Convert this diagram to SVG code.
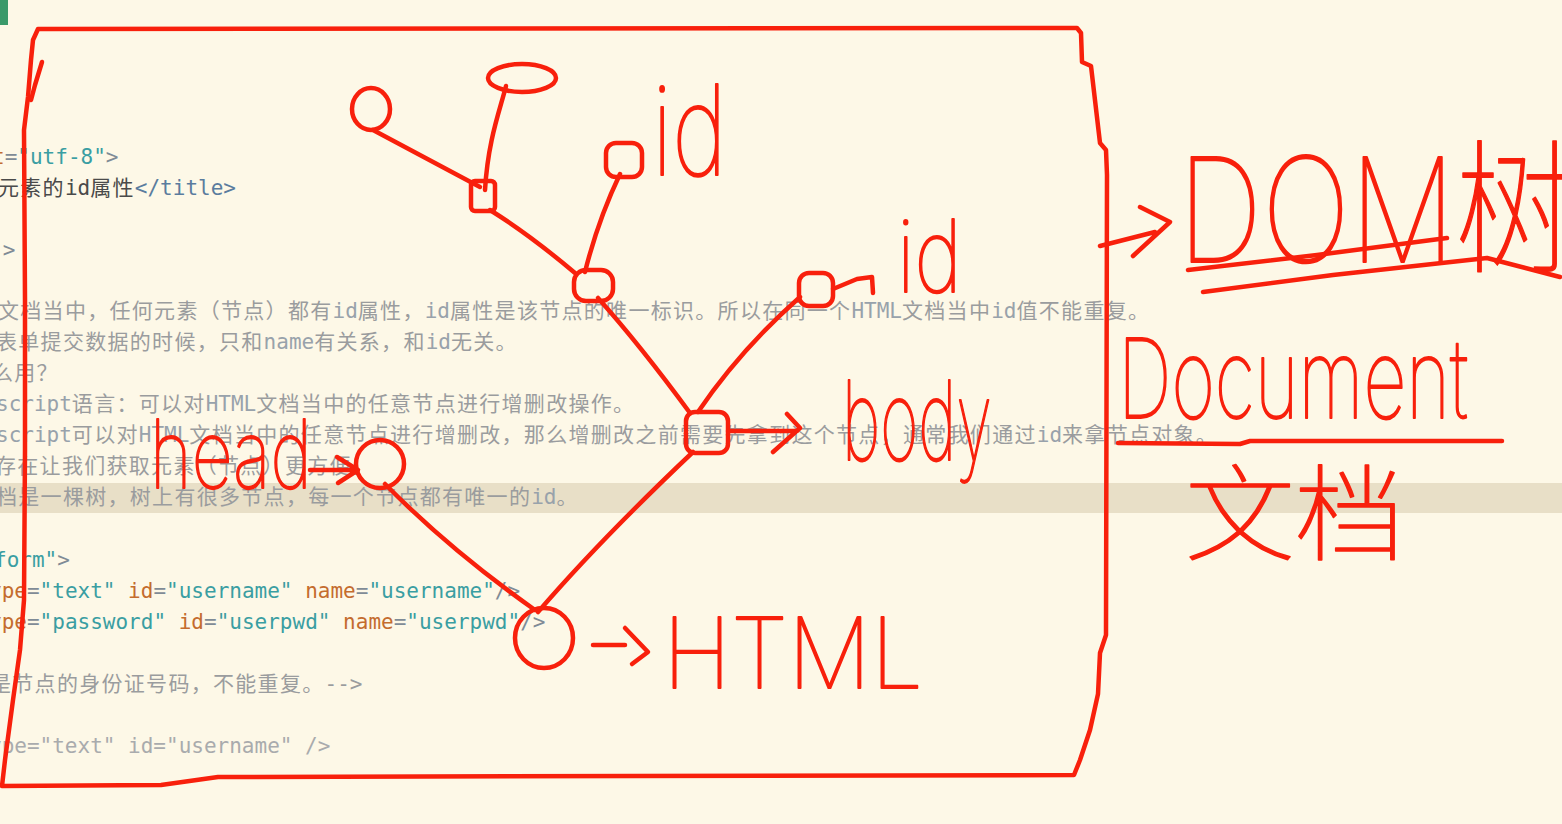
<svg xmlns="http://www.w3.org/2000/svg" width="1562" height="824" viewBox="0 0 1562 824">
<style>
.code{font-family:"DejaVu Sans Mono","Noto Sans CJK SC",monospace;font-size:21px}
.c{font-family:"Noto Sans CJK SC",sans-serif;letter-spacing:1.3px}
.cm{fill:#9a9c9e}
.cmc{fill:#98a2ab}
.at{fill:#c46c2e}
.va{fill:#3a9ea2}
.pu{fill:#7f8b96}
.tg{fill:#5a7c9e}
.tx{fill:#4a4a4a}
.old{fill:#a9abad}
.pen{fill:none;stroke:#f8200c;stroke-width:4.5;stroke-linecap:round;stroke-linejoin:round}
.hw{font-family:"Inter","Roboto","DejaVu Sans",sans-serif;font-weight:100;fill:#f8200c;stroke:#f8200c;stroke-width:2;stroke-linejoin:round}
.hwc{font-family:"Noto Sans CJK SC",sans-serif;font-weight:100;fill:#f8200c;stroke:#f8200c;stroke-width:1.5;stroke-linejoin:round}
</style>
<rect width="1562" height="824" fill="#fdf8e7"/>
<rect x="0" y="483" width="1562" height="30" fill="#e8dfc7"/>
<rect x="0" y="0" width="8" height="25" fill="#3a9a6a"/>

<g id="code">
<text class="code" x="-8" y="164"><tspan class="at">t</tspan><tspan class="pu">=</tspan><tspan class="va">"utf-8"</tspan><tspan class="pu">&gt;</tspan></text>
<text class="code" x="-2" y="195"><tspan class="c tx">元素的</tspan><tspan class="tx">id</tspan><tspan class="c tx">属性</tspan><tspan class="tg">&lt;/title&gt;</tspan></text>
<text class="code" x="-10" y="257"><tspan class="va">"</tspan><tspan class="pu">&gt;</tspan></text>
<text class="code" x="-2" y="318"><tspan class="c cm">文档当中，任何元素（节点）都有</tspan><tspan class="cmc">id</tspan><tspan class="c cm">属性，</tspan><tspan class="cmc">id</tspan><tspan class="c cm">属性是该节点的唯一标识。所以在同一个</tspan><tspan class="cmc">HTML</tspan><tspan class="c cm">文档当中</tspan><tspan class="cmc">id</tspan><tspan class="c cm">值不能重复。</tspan></text>
<text class="code" x="-4" y="349"><tspan class="c cm">表单提交数据的时候，只和</tspan><tspan class="cmc">name</tspan><tspan class="c cm">有关系，和</tspan><tspan class="cmc">id</tspan><tspan class="c cm">无关。</tspan></text>
<text class="code" x="-8" y="380"><tspan class="c cm">么用？</tspan></text>
<text class="code" x="-4" y="411"><tspan class="cmc">script</tspan><tspan class="c cm">语言：可以对</tspan><tspan class="cmc">HTML</tspan><tspan class="c cm">文档当中的任意节点进行增删改操作。</tspan></text>
<text class="code" x="-4" y="442"><tspan class="cmc">script</tspan><tspan class="c cm">可以对</tspan><tspan class="cmc">HTML</tspan><tspan class="c cm">文档当中的任意节点进行增删改，那么增删改之前需要先拿到这个节点，通常我们通过</tspan><tspan class="cmc">id</tspan><tspan class="c cm">来拿节点对象。</tspan></text>
<text class="code" x="-5" y="473"><tspan class="c cm">存在让我们获取元素（节点）更方便。</tspan></text>
<text class="code" x="-4" y="504"><tspan class="c cm">档是一棵树，树上有很多节点，每一个节点都有唯一的</tspan><tspan class="cmc">id</tspan><tspan class="c cm">。</tspan></text>
<text class="code" x="-6" y="567"><tspan class="va">form"</tspan><tspan class="pu">&gt;</tspan></text>
<text class="code" x="-11" y="598"><tspan class="at">ype</tspan><tspan class="pu">=</tspan><tspan class="va">"text"</tspan> <tspan class="at">id</tspan><tspan class="pu">=</tspan><tspan class="va">"username"</tspan> <tspan class="at">name</tspan><tspan class="pu">=</tspan><tspan class="va">"username"</tspan><tspan class="pu">/&gt;</tspan></text>
<text class="code" x="-11" y="629"><tspan class="at">ype</tspan><tspan class="pu">=</tspan><tspan class="va">"password"</tspan> <tspan class="at">id</tspan><tspan class="pu">=</tspan><tspan class="va">"userpwd"</tspan> <tspan class="at">name</tspan><tspan class="pu">=</tspan><tspan class="va">"userpwd"</tspan><tspan class="pu">/&gt;</tspan></text>
<text class="code" x="-10" y="691"><tspan class="c cm">是节点的身份证号码，不能重复。</tspan><tspan class="cm">--&gt;</tspan></text>
<text class="code old" x="-11" y="753">ype="text" id="username" /&gt;</text>
</g>

<g id="frame">
<path class="pen" d="M38,29 L1077,28 L1081,33 L1082,62 L1091,66 L1100,143 L1106,150 L1107,175 L1106,635 L1100,653 L1098,694 L1090,730 L1080,760 L1074,775 L218,777 L161,785 L2,786 L5,760 L13,700 L20,650 L24,600 L25,450 L25,300 L24,130 L28,97 L31,60 L33,40 Z"/>
<path class="pen" d="M42,62 L35,85 L31,100"/>
</g>

<g id="connectors">
<path class="pen" d="M373,130 Q420,155 480,187"/>
<path class="pen" d="M506,86 C500,110 488,140 485,190"/>
<path class="pen" d="M490,210 Q530,235 575,273"/>
<path class="pen" d="M620,174 Q598,220 585,272"/>
<path class="pen" d="M598,298 Q640,345 690,413"/>
<path class="pen" d="M800,297 Q740,350 698,412"/>
<path class="pen" d="M693,452 Q600,540 538,612"/>
<path class="pen" d="M385,484 Q450,550 535,610"/>
<path class="pen" d="M310,470 L356,470 M337,457 L358,470 L338,483"/>
<path class="pen" d="M728,431 L797,431 M787,414 L800,428 L773,452"/>
<path class="pen" d="M593,645 L625,645 M625,628 L648,652 L632,664"/>
<path class="pen" d="M833,289 L857,279 L872,277 L873,293"/>
<path class="pen" d="M1100,246 L1155,232 M1140,207 L1170,222 L1133,256"/>
</g>

<g id="node-a"><ellipse class="pen" cx="371" cy="109" rx="19" ry="21"/></g>
<g id="node-b"><ellipse class="pen" cx="522" cy="78" rx="34" ry="14"/></g>
<g id="node-c"><rect class="pen" x="471" y="181" width="24" height="30" rx="4"/></g>
<g id="node-d"><rect class="pen" x="606" y="143" width="36" height="34" rx="10"/></g>
<g id="node-e"><rect class="pen" x="574" y="270" width="39" height="31" rx="12"/></g>
<g id="node-f"><rect class="pen" x="799" y="273" width="34" height="33" rx="10"/></g>
<g id="node-body"><rect class="pen" x="686" y="412" width="42" height="41" rx="9"/></g>
<g id="node-head"><ellipse class="pen" cx="380" cy="464" rx="24" ry="24"/></g>
<g id="node-html"><ellipse class="pen" cx="544" cy="638" rx="29" ry="30"/></g>

<g id="labels">
<text class="hw" x="652" y="175" font-size="125" textLength="75" lengthAdjust="spacingAndGlyphs">id</text>
<text class="hw" x="897" y="292" font-size="100" textLength="65" lengthAdjust="spacingAndGlyphs">id</text>
<text class="hw" x="842" y="460" font-size="110" textLength="150" lengthAdjust="spacingAndGlyphs">body</text>
<text class="hw" x="150" y="488" font-size="95" textLength="162" lengthAdjust="spacingAndGlyphs">head</text>
<text class="hw" x="663" y="688" font-size="98" textLength="260" lengthAdjust="spacingAndGlyphs">HTML</text>
<text class="hw" x="1178" y="262" font-size="145" textLength="395" lengthAdjust="spacingAndGlyphs">DOM<tspan class="hwc">树</tspan></text>
<text class="hw" x="1118" y="418" font-size="110" textLength="350" lengthAdjust="spacingAndGlyphs">Document</text>
<text class="hwc" x="1185" y="552" font-size="105" textLength="220" lengthAdjust="spacingAndGlyphs">文档</text>
<path class="pen" d="M1188,270 L1317,255 L1447,238"/>
<path class="pen" d="M1203,292 L1333,275 L1487,258 L1560,277"/>
<path class="pen" d="M1118,443 L1240,444 L1250,441 L1502,441"/>
</g>
</svg>
